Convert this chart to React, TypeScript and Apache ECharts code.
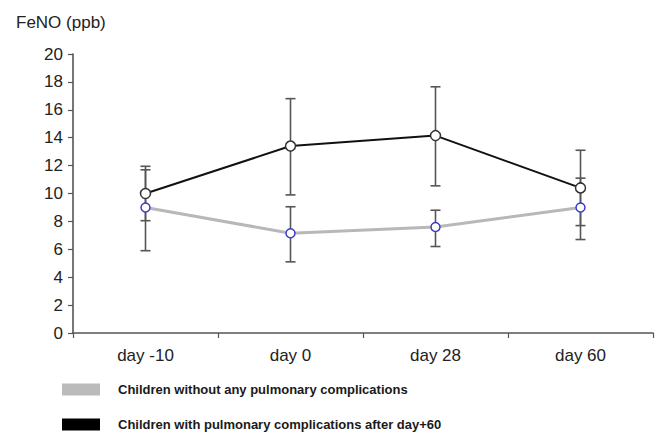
import React, { useEffect, useRef } from "react";
import * as echarts from "echarts";

const categories = ["day -10", "day 0", "day 28", "day 60"];
const yTicks = [0, 2, 4, 6, 8, 10, 12, 14, 16, 18, 20];

const withoutName = "Children without any pulmonary complications";
const withoutMean = [9.0, 7.15, 7.6, 9.0];
const withoutLow = [5.9, 5.1, 6.2, 6.7];
const withoutHigh = [11.7, 9.05, 8.8, 11.1];

const withName = "Children with pulmonary complications after day+60";
const withMean = [10.0, 13.4, 14.15, 10.4];
const withLow = [8.05, 9.9, 10.55, 7.7];
const withHigh = [11.95, 16.8, 17.65, 13.1];

const FONT = "'Liberation Sans', Arial, sans-serif";

function errorData(low: number[], high: number[]) {
  return categories.map((_, i) => [i, low[i], high[i]]);
}

function errorRender(params: any, api: any) {
  const x = api.value(0);
  const lo = api.coord([x, api.value(1)]);
  const hi = api.coord([x, api.value(2)]);
  const hw = 5;
  const style = { stroke: "#555555", lineWidth: 1.6 };
  return {
    type: "group",
    children: [
      { type: "line", shape: { x1: lo[0], y1: lo[1], x2: hi[0], y2: hi[1] }, style },
      { type: "line", shape: { x1: lo[0] - hw, y1: lo[1], x2: lo[0] + hw, y2: lo[1] }, style },
      { type: "line", shape: { x1: hi[0] - hw, y1: hi[1], x2: hi[0] + hw, y2: hi[1] }, style },
    ],
  };
}

function legendFor(name: string, color: string, top: number) {
  return {
    orient: "vertical",
    left: 62,
    top,
    padding: 0,
    icon: "rect",
    itemWidth: 38,
    itemHeight: 12,
    selectedMode: false,
    textStyle: {
      fontFamily: FONT,
      fontSize: 13,
      fontWeight: "bold",
      lineHeight: 12,
      color: "#1a1a1a",
      padding: [0, 0, 0, 13],
    },
    data: [{ name, itemStyle: { color, borderWidth: 0 } }],
  };
}

export default function App() {
  const ref = useRef<HTMLDivElement>(null);
  useEffect(() => {
    if (!ref.current) return;
    const chart = echarts.init(ref.current, null, { renderer: "svg" });
    chart.setOption({
      animation: false,
      backgroundColor: "#ffffff",
      textStyle: { fontFamily: FONT },
      title: {
        text: "FeNO (ppb)",
        left: 11,
        top: 9,
        textStyle: { fontFamily: FONT, fontSize: 17, fontWeight: "normal", color: "#222" },
      },
      grid: { left: 73, right: 2, top: 54, bottom: 100, containLabel: false },
      legend: [
        legendFor(withoutName, "#bbbbbb", 383),
        legendFor(withName, "#000000", 418),
      ],
      xAxis: {
        type: "category",
        data: categories,
        boundaryGap: true,
        axisLine: { lineStyle: { color: "#555", width: 1.6 } },
        axisTick: { show: true, length: 5, lineStyle: { color: "#555", width: 1.2 } },
        axisLabel: { fontFamily: FONT, fontSize: 17, color: "#222", margin: 14 },
      },
      yAxis: {
        type: "value",
        min: yTicks[0],
        max: yTicks[yTicks.length - 1],
        interval: 2,
        splitLine: { show: false },
        axisLine: { show: true, lineStyle: { color: "#555", width: 1.6 } },
        axisTick: { show: true, length: 5, lineStyle: { color: "#555", width: 1.2 } },
        axisLabel: { fontFamily: FONT, fontSize: 17, color: "#222", margin: 10 },
      },
      series: [
        {
          type: "custom",
          name: "err-without",
          renderItem: errorRender,
          data: errorData(withoutLow, withoutHigh),
          z: 1,
          silent: true,
        },
        {
          type: "custom",
          name: "err-with",
          renderItem: errorRender,
          data: errorData(withLow, withHigh),
          z: 1,
          silent: true,
        },
        {
          type: "line",
          name: withoutName,
          data: withoutMean,
          z: 3,
          symbol: "circle",
          symbolSize: 9,
          showAllSymbol: true,
          lineStyle: { color: "#b8b8b8", width: 3 },
          itemStyle: { color: "#ffffff", borderColor: "#3a3ac8", borderWidth: 1.5 },
        },
        {
          type: "line",
          name: withName,
          data: withMean,
          z: 4,
          symbol: "circle",
          symbolSize: 10,
          showAllSymbol: true,
          lineStyle: { color: "#111111", width: 2 },
          itemStyle: { color: "#ffffff", borderColor: "#333333", borderWidth: 1.5 },
        },
      ],
    });
    return () => chart.dispose();
  }, []);
  return (
    <div
      ref={ref}
      style={{ position: "absolute", left: 0, top: 0, width: 655, height: 433 }}
    />
  );
}
